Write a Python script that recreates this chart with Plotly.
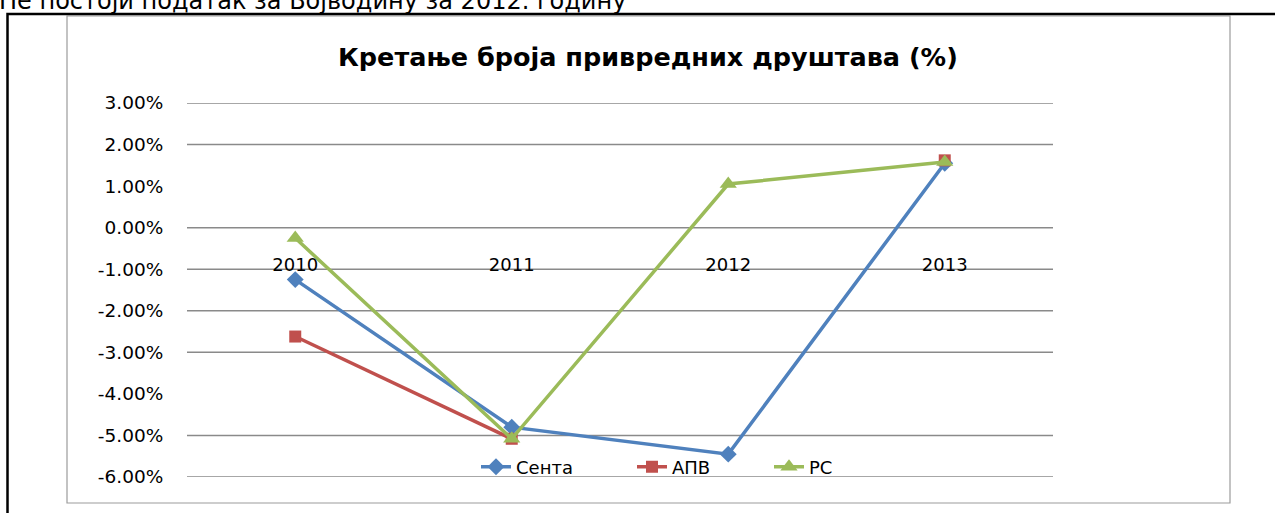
import plotly.graph_objects as go

# ---- data ----
years = ["2010", "2011", "2012", "2013"]
senta = [-1.25, -4.80, -5.45, 1.55]
apv = [-2.62, -5.08, None, 1.62]
rs = [-0.25, -5.08, 1.05, 1.58]
series_names = ["Сента", "АПВ", "РС"]
y_ticks = [-6, -5, -4, -3, -2, -1, 0, 1, 2, 3]
y_ticklabels = [f"{v:.2f}%" for v in y_ticks]
grid_values = [3, 2, 0, -1, -2, -3, -5, -6]
title_text = "Кретање броја привредних друштава (%)"
note_text = "Не постоји податак за Војводину за 2012. годину"

W, H = 1275, 513
L, R, T, B = 187, 1053, 103, 477  # plot area in px


def px_x(p):
    return (p - L) / (R - L)


def px_y(p):
    return (B - p) / (B - T)


FONT = "DejaVu Sans"
colors = ["#4F81BD", "#C0504D", "#9BBB59"]
symbols = ["diamond", "square", "triangle-up"]
sizes = [13, 12, 15]
legend_keys = ["legend", "legend2", "legend3"]
legend_x_px = [476, 632, 769]

fig = go.Figure()
for name, vals, c, s, sz, lk in zip(series_names, [senta, apv, rs], colors, symbols, sizes, legend_keys):
    fig.add_trace(go.Scatter(
        x=years, y=vals, name=name, mode="lines+markers",
        line=dict(color=c, width=3.5),
        marker=dict(symbol=s, size=sz, color=c, line=dict(width=0)),
        connectgaps=False, legend=lk,
    ))

shapes = []
for g in grid_values:
    shapes.append(dict(type="line", xref="paper", yref="y", x0=0, x1=1, y0=g, y1=g,
                       line=dict(color="#8a8a8a", width=1.5), layer="below"))
# chart area border
shapes.append(dict(type="rect", xref="paper", yref="paper",
                   x0=px_x(67), x1=px_x(1230), y0=px_y(503), y1=px_y(16),
                   line=dict(color="#9c9c9c", width=1.2), layer="below"))
# outer black frame (left + top)
shapes.append(dict(type="path", xref="paper", yref="paper",
                   path=f"M {px_x(7.5)} {px_y(520)} L {px_x(7.5)} {px_y(14)} L {px_x(1280)} {px_y(14)}",
                   line=dict(color="#000000", width=2.5)))

legend_common = dict(orientation="h", xanchor="left", y=px_y(467), yanchor="middle",
                     bgcolor="rgba(0,0,0,0)", font=dict(size=18, family=FONT, color="#000000"),
                     itemwidth=30)

fig.update_layout(
    width=W, height=H,
    margin=dict(l=L, r=W - R, t=T, b=H - B, pad=0),
    paper_bgcolor="white", plot_bgcolor="rgba(0,0,0,0)",
    font=dict(family=FONT, size=17, color="#000000"),
    showlegend=True,
    legend=dict(x=px_x(legend_x_px[0]), **legend_common),
    legend2=dict(x=px_x(legend_x_px[1]), **legend_common),
    legend3=dict(x=px_x(legend_x_px[2]), **legend_common),
    xaxis=dict(type="category", range=[-0.5, 3.5], showgrid=False, zeroline=False,
               showline=False, anchor="free", position=6 / 9,
               ticks="outside", ticklen=21, tickcolor="rgba(0,0,0,0)",
               tickfont=dict(size=18, family=FONT)),
    yaxis=dict(range=[-6, 3], tickvals=y_ticks, ticktext=y_ticklabels,
               showgrid=False, zeroline=False, showline=False,
               ticks="outside", ticklen=19, tickcolor="rgba(0,0,0,0)",
               tickfont=dict(size=18.5, family=FONT)),
    shapes=shapes,
    annotations=[
        dict(text=f"<b>{title_text}</b>", xref="paper", yref="paper",
             x=px_x(648), y=px_y(57), xanchor="center", yanchor="middle",
             showarrow=False, font=dict(size=25.5, family=FONT, color="#000000")),
        dict(text=note_text, xref="paper", yref="paper",
             x=px_x(-3), y=px_y(17), xanchor="left", yanchor="bottom",
             showarrow=False, font=dict(size=24, family=FONT, color="#000000")),
    ],
)

fig.write_html("out.html", post_script="document.body.style.margin='0px';",
               config={"responsive": False, "displayModeBar": False})
